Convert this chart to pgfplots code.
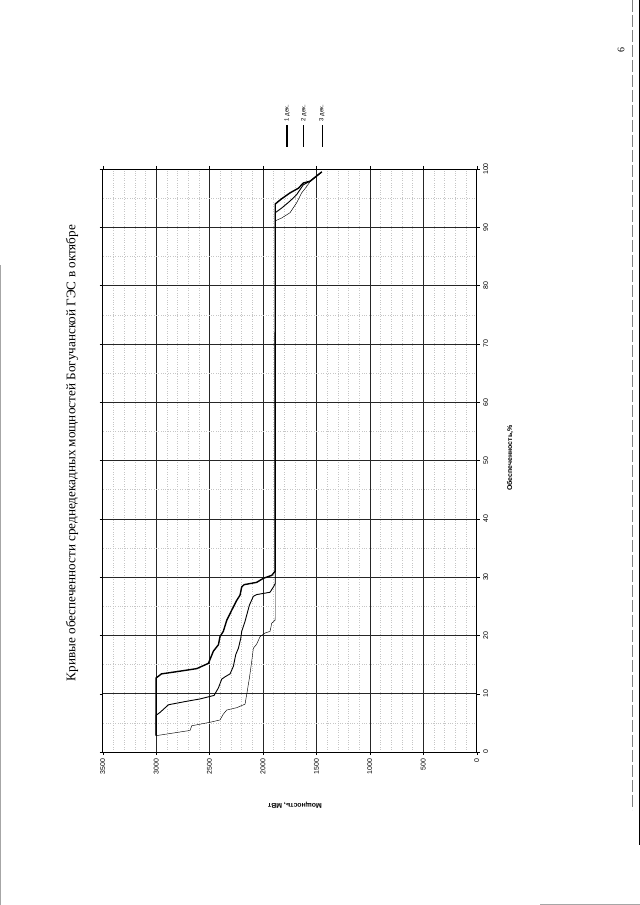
\documentclass[border=0pt]{standalone}
\usepackage{fontspec}
\setmainfont{Liberation Serif}
\newfontfamily\arial{Liberation Sans}
\usepackage{pgfplots}
\pgfplotsset{compat=1.18}

% curves of 10-day mean power vs. probability, October
\pgfplotstableread{
P     F
3000  2.8
3000  12.7
2950  13.4
2800  13.8
2620  14.3
2511  15.2
2464  17.3
2417  18.4
2402  19.8
2371  20.7
2339  22.6
2293  24.3
2246  26.0
2215  26.9
2199  28.3
2177  28.7
2059  29.1
1996  29.8
1918  30.3
1887  31.0
1885  94.0
1825  94.9
1747  95.9
1669  96.7
1622  97.6
1560  97.9
1450  99.5
}\decI

\pgfplotstableread{
P     F
3000  2.8
3000  6.3
2963  6.8
2885  8.1
2714  8.7
2589  9.1
2458  9.7
2417  11.0
2386  12.5
2355  12.9
2308  13.4
2277  14.7
2255  16.7
2230  17.8
2208  19.5
2199  20.7
2168  22.4
2127  25.2
2090  26.7
2059  27.0
1934  27.4
1903  28.3
1885  28.9
1885  92.5
1825  93.3
1747  94.5
1685  95.6
1622  97.3
1560  97.9
1450  99.5
}\decII

\pgfplotstableread{
P     F
3000  2.8
2682  3.7
2667  4.5
2495  5.1
2402  5.5
2371  6.5
2339  7.2
2246  7.6
2168  8.2
2152  9.9
2127  12.7
2105  15.6
2090  17.8
2059  18.5
2027  19.8
1981  20.4
1934  20.7
1918  22.1
1887  22.6
1885  23.2
1885  91.1
1825  91.6
1747  92.5
1685  94.2
1638  95.9
1591  97.0
1560  97.8
1450  99.5
}\decIII

\begin{document}
\begin{tikzpicture}
\path[use as bounding box] (0,0) rectangle (640bp,905bp);

% scan edges
\draw[black, line width=1.6pt] (639.5bp,905bp) -- (639.5bp,60bp);
\draw[gray, line width=0.6pt, dash pattern=on 12bp off 3bp] (632bp,905bp) -- (632bp,95bp);
\draw[gray!70, line width=1pt] (0.5bp,640bp) -- (0.5bp,0bp);
\draw[gray!70, line width=0.8pt] (540bp,1bp) -- (640bp,1bp);

\node[rotate=90, font=\fontsize{13.2}{16}\selectfont] at (72bp,452bp)
  {Кривые обеспеченности среднедекадных мощностей Богучанской ГЭС в октябре};
\node[rotate=90, font=\fontsize{10}{12}\selectfont] at (621bp,855bp) {6};

\begin{axis}[
  at={(102.7bp,153bp)}, anchor=south west,
  scale only axis, width=374bp, height=583bp,
  xmin=0, xmax=3500, x dir=reverse,
  ymin=0, ymax=100,
  xtick={0,500,...,3500}, ytick={0,10,...,100},
  minor x tick num=4, minor y tick num=1,
  grid=both,
  major grid style={black!85, line width=0.45pt},
  minor grid style={gray!45, dotted, line width=0.35pt},
  axis line style={black, line width=0.5pt},
  yticklabel pos=right,
  tick align=outside, major tick length=3bp, minor tick length=0pt,
  tick style={black},
  clip=false,
  font=\arial,
  /pgf/number format/assume math mode=true,
  /pgf/number format/1000 sep={},
  xticklabel style={rotate=90, anchor=east, font=\arial\fontsize{7}{8}\selectfont},
  yticklabel style={rotate=90, anchor=north, font=\arial\fontsize{7}{8}\selectfont},
  every axis x label/.style={at={(axis description cs:0.514,-0.091)}, rotate=180, anchor=center,
    font=\arial\bfseries\fontsize{7}{8}\selectfont},
  every axis y label/.style={at={(axis description cs:1.089,0.504)}, rotate=90, anchor=center,
    font=\arial\bfseries\fontsize{7}{8}\selectfont},
  xlabel={Мощность, МВт},
  ylabel={Обеспеченность,\%},
]
\addplot[black, line width=1.4pt] table[x=P, y=F] {\decI};
\addplot[black, line width=0.9pt] table[x=P, y=F] {\decII};
\addplot[black, line width=0.45pt] table[x=P, y=F] {\decIII};

% legend, turned with the page
\draw[black, line width=1.4pt] (axis description cs:0.493,1.038) -- (axis description cs:0.493,1.075);
\draw[black, line width=0.9pt] (axis description cs:0.538,1.038) -- (axis description cs:0.538,1.075);
\draw[black, line width=0.45pt] (axis description cs:0.586,1.038) -- (axis description cs:0.586,1.075);
\node[rotate=90, anchor=west, inner sep=1pt, font=\arial\fontsize{6}{7}\selectfont]
  at (axis description cs:0.493,1.080) {1 дек.};
\node[rotate=90, anchor=west, inner sep=1pt, font=\arial\fontsize{6}{7}\selectfont]
  at (axis description cs:0.538,1.080) {2 дек.};
\node[rotate=90, anchor=west, inner sep=1pt, font=\arial\fontsize{6}{7}\selectfont]
  at (axis description cs:0.586,1.080) {3 дек.};
\end{axis}
\end{tikzpicture}
\end{document}
